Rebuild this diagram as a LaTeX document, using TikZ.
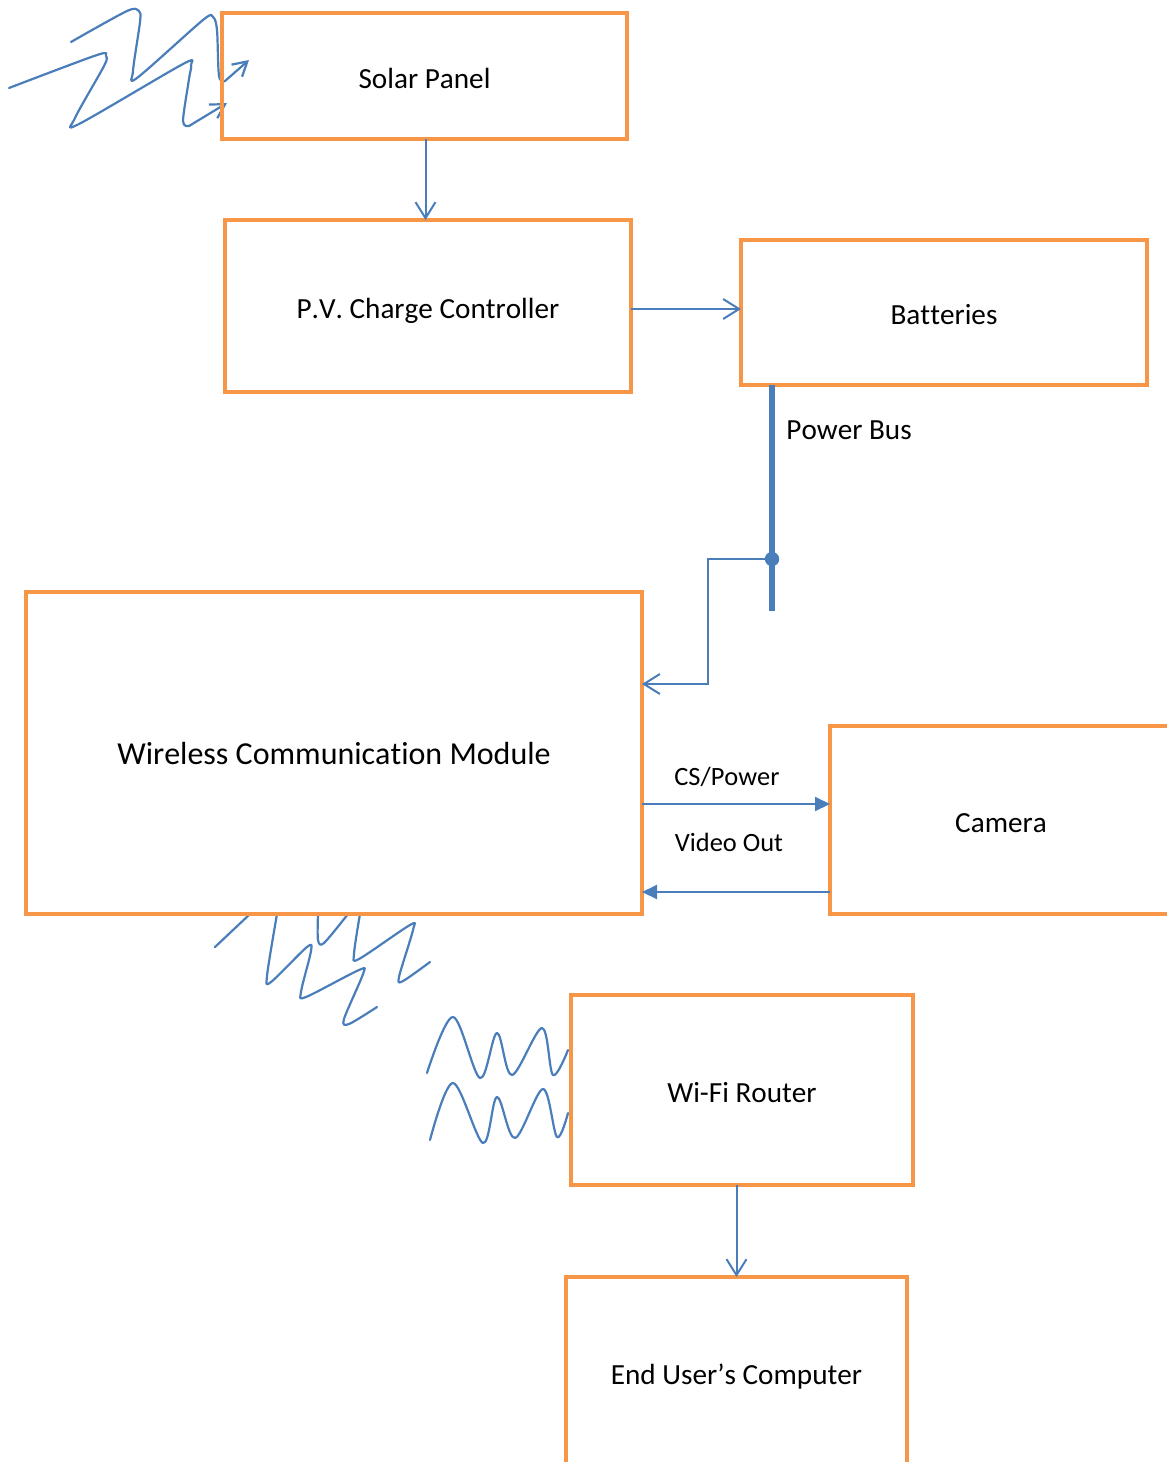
\documentclass[tikz,border=0pt]{standalone}
\usepackage{fontspec}
\setmainfont{Carlito}[Ligatures=NoCommon, Kerning=Off]
\usetikzlibrary{arrows.meta}
\definecolor{boxorange}{HTML}{F79646}
\definecolor{lineblue}{HTML}{4A7EBB}
\tikzset{
  block/.style={draw=boxorange, line width=2pt, rectangle, inner sep=0pt, outer sep=0pt,
                font=\fontsize{14.6}{17}\selectfont, text=black, text height=12pt, text depth=0pt},
  wire/.style={draw=lineblue, line width=1pt},
  openhead/.style={wire, -{Straight Barb[length=8pt,width=10pt,line width=1pt]}},
  solidhead/.style={wire, -{Triangle[length=7.5pt,width=7pt]}},
  wave/.style={draw=lineblue, line width=1.1pt, line cap=round, line join=round},
  lbl/.style={font=\fontsize{14.6}{17}\selectfont, inner sep=0pt},
  smalllbl/.style={font=\fontsize{13.2}{15}\selectfont, inner sep=0pt}
}
\begin{document}
\begin{tikzpicture}[x=0.5pt,y=-0.5pt]
\useasboundingbox (0,0) rectangle (1167,1462);
\clip (0,0) rectangle (1167,1462);

% sunlight rays hitting the panel
\draw[wave, -{Straight Barb[length=7pt,width=8pt,line width=1.1pt]}]
  plot[smooth, tension=0.5] coordinates {(71,42) (127,11) (139,11) (140,22) (133,71) (137,78) (203,20) (213,17) (217,30) (219,76) (225,81)} -- (249,60);
\draw[wave, -{Straight Barb[length=7pt,width=8pt,line width=1.1pt]}]
  plot[smooth, tension=0.5] coordinates {(9,88) (97,55) (106,56) (104,66) (75,118) (79,124) (183,64) (191,65) (189,79) (183,121) (189,126)} -- (227,103);

% radio waves leaving the module
\draw[wave] (215,947) -- (250,914);
\draw[wave] plot[smooth, tension=0.5] coordinates {(277,914) (267,976) (271,982) (307,947) (311,951) (301,992) (306,997) (359,970) (363,974) (344,1019) (349,1024) (377,1007)};
\draw[wave] plot[smooth, tension=0.5] coordinates {(318,914) (318,940) (324,943) (348,914)};
\draw[wave] plot[smooth, tension=0.5] coordinates {(360,914) (354,954) (359,959) (410,925) (413,930) (399,977) (403,981) (430,962)};

% radio waves reaching the router
\draw[wave] plot[smooth, tension=0.55] coordinates {(427,1073) (453,1017) (480,1078) (497,1033) (512,1075) (542,1028) (553,1075) (568,1050)};
\draw[wave] plot[smooth, tension=0.55] coordinates {(430,1140) (453,1083) (483,1143) (497,1097) (515,1138) (543,1089) (557,1137) (568,1113)};

% blocks
\node[block, minimum width=202.5pt, minimum height=63pt] (solar) at (424.5,76) {Solar Panel};
\node[block, minimum width=203pt, minimum height=86pt] (pv) at (428,306) {P.V. Charge Controller};
\node[block, minimum width=203pt, minimum height=72.5pt] (bat) at (944,312.5) {Batteries};
\node[block, minimum width=308pt, minimum height=161pt, font=\fontsize{16}{19}\selectfont, text height=11.6pt] (wcm) at (334,753) {Wireless Communication Module};
\node[block, minimum width=171pt, minimum height=94pt] (cam) at (1001,820) {Camera};
\node[block, minimum width=171pt, minimum height=95pt] (wifi) at (742,1090) {Wi-Fi Router};
\node[block, minimum width=170.5pt, minimum height=95pt] (user) at (736.5,1372) {End User’s Computer};

% power path
\draw[openhead] ([xshift=0.5pt]solar.south) -- ([xshift=0.5pt]solar.south |- pv.north);
\draw[openhead] ([yshift=-1.5pt]pv.east) -- ([yshift=-1.5pt]pv.east -| bat.west);

\coordinate (bustop) at ([xshift=15.5pt]bat.south west);
\coordinate (busend) at (772,611);
\coordinate (tap) at (772,559);
\coordinate (bend) at (708,559);
\coordinate (feedy) at (0,684);
\draw[draw=lineblue, line width=2.6pt] (bustop) -- (busend);
\fill[lineblue] (tap) circle (3.6pt);
\node[lbl, anchor=west] (buslbl) at (786,430) {Power Bus};
\draw[openhead] (tap) -- (bend) |- (wcm.east |- feedy);

% camera link
\coordinate (csy) at (0,804);
\coordinate (vidy) at (0,892);
\draw[solidhead] (wcm.east |- csy) -- (cam.west |- csy);
\draw[solidhead] (cam.west |- vidy) -- (wcm.east |- vidy);
\node[smalllbl] (cslbl) at (727,777) {CS/Power};
\node[smalllbl] (vidlbl) at (729,842) {Video Out};

% router to user
\draw[openhead] (user.north |- wifi.south) -- (user.north);
\end{tikzpicture}
\end{document}
